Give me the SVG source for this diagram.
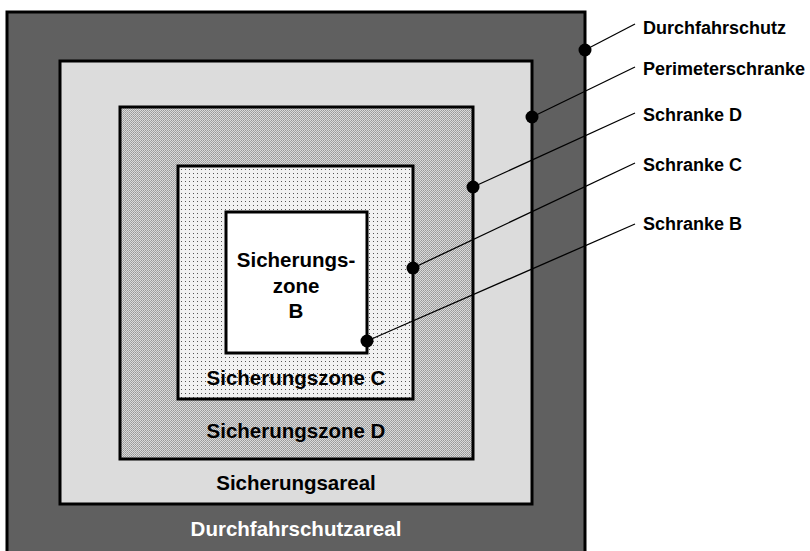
<svg xmlns="http://www.w3.org/2000/svg" width="810" height="551" viewBox="0 0 810 551">
<style>
.zone{stroke:#000;stroke-width:3}
.lbl{font-family:"Liberation Sans",Arial,sans-serif;font-weight:bold;font-size:20.5px;text-anchor:middle;fill:#000}
.side{font-family:"Liberation Sans",Arial,sans-serif;font-weight:bold;font-size:18px;fill:#000}
.conn line{stroke:#000;stroke-width:1.3}
.conn circle{fill:#000}
</style>
<defs>
<pattern id="patD" width="2" height="2" patternUnits="userSpaceOnUse">
<rect width="2" height="2" fill="#dadada"/>
<rect x="1" y="0" width="1" height="1" fill="#989898"/>
<rect x="0" y="1" width="1" height="1" fill="#a6a6a6"/>
</pattern>
<pattern id="patC" width="4" height="4" patternUnits="userSpaceOnUse">
<rect width="4" height="4" fill="#f2f2f2"/>
<rect x="1" y="1" width="1" height="1" fill="#555"/>
</pattern>
</defs>
<rect width="810" height="551" fill="#fff"/>
<g id="durchfahrschutzareal">
<rect class="zone" x="7" y="12" width="578" height="560" fill="#606060"/>
<text class="lbl" x="296" y="536" style="fill:#fff">Durchfahrschutzareal</text>
</g>
<g id="sicherungsareal">
<rect class="zone" x="60" y="61" width="472" height="443" fill="#dcdcdc"/>
<text class="lbl" x="296" y="490">Sicherungsareal</text>
</g>
<g id="zoneD">
<rect class="zone" x="120" y="107" width="353" height="352" fill="url(#patD)"/>
<text class="lbl" x="296" y="438">Sicherungszone D</text>
</g>
<g id="zoneC">
<rect class="zone" x="178" y="166" width="235" height="233" fill="url(#patC)"/>
<text class="lbl" x="296" y="385">Sicherungszone C</text>
</g>
<g id="zoneB">
<rect class="zone" x="226" y="212" width="141" height="141" fill="#fff"/>
<text class="lbl" x="296" y="267">Sicherungs-</text>
<text class="lbl" x="296" y="293">zone</text>
<text class="lbl" x="296" y="318">B</text>
</g>
<g id="connectors" class="conn">
<line x1="585" y1="50" x2="635" y2="24"/>
<circle cx="585" cy="50" r="6.5"/>
<line x1="532" y1="117" x2="635" y2="67"/>
<circle cx="532" cy="117" r="6.5"/>
<line x1="473" y1="187" x2="635" y2="113"/>
<circle cx="473" cy="187" r="6.5"/>
<line x1="413" y1="268" x2="635" y2="163"/>
<circle cx="413" cy="268" r="6.5"/>
<line x1="367" y1="341" x2="635" y2="224"/>
<circle cx="367" cy="341" r="6.5"/>
</g>
<g id="labels">
<text class="side" x="643" y="34">Durchfahrschutz</text>
<text class="side" x="643" y="75">Perimeterschranke</text>
<text class="side" x="643" y="121">Schranke D</text>
<text class="side" x="643" y="171">Schranke C</text>
<text class="side" x="643" y="230">Schranke B</text>
</g>
</svg>
